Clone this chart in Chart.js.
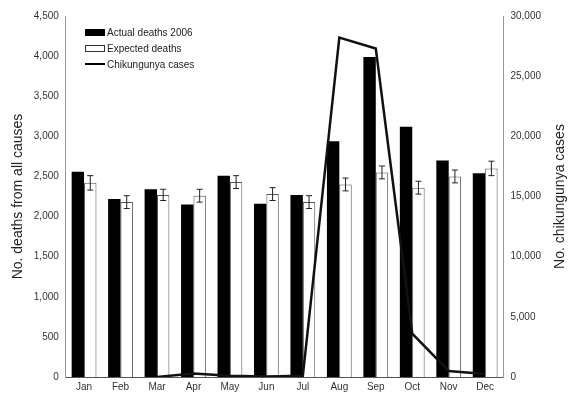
<!DOCTYPE html>
<html>
<head>
<meta charset="utf-8">
<script src="https://cdn.jsdelivr.net/npm/chart.js@4"></script>
<style>
  html, body { margin: 0; padding: 0; background: #fff; }
  #wrap { position: relative; width: 570px; height: 397px; }
  #legend { position: absolute; left: 85px; top: 24px; font: 10px "Liberation Sans", Arial, sans-serif; color: #222; }
  #legend div { display: flex; align-items: center; height: 16px; }
  #legend span.box { display: inline-block; width: 20px; height: 7px; margin-right: 2px; box-sizing: border-box; }
</style>
</head>
<body>
<div id="wrap">
  <canvas id="c" width="570" height="397"></canvas>
  <div id="legend">
    <div><span class="box" style="background:#000"></span>Actual deaths 2006</div>
    <div><span class="box" style="background:#fff;border:1px solid #333"></span>Expected deaths</div>
    <div><span class="box" style="height:2px;background:#000"></span>Chikungunya cases</div>
  </div>
</div>
<script>
// Data
const months = ["Jan", "Feb", "Mar", "Apr", "May", "Jun", "Jul", "Aug", "Sep", "Oct", "Nov", "Dec"];
const actualDeaths = [2560, 2220, 2340, 2150, 2510, 2160, 2270, 2940, 3990, 3120, 2700, 2540];
const expectedDeaths = [2420, 2180, 2270, 2260, 2430, 2280, 2180, 2400, 2550, 2360, 2500, 2600];
const expectedError = [90, 80, 70, 80, 80, 80, 80, 80, 80, 80, 80, 90];
const chikCases = [null, null, 0, 300, 100, 50, 100, 28200, 27300, 3600, 500, 250];

const FONT = "'Liberation Sans', Arial, sans-serif";

// error bars on the expected deaths series
const errorBars = {
  id: "errorBars",
  afterDatasetsDraw(chart) {
    const meta = chart.getDatasetMeta(1);
    const y = chart.scales.y;
    const c = chart.ctx;
    c.save();
    c.strokeStyle = "#222";
    c.lineWidth = 1;
    meta.data.forEach((bar, i) => {
      const v = expectedDeaths[i];
      const e = expectedError[i];
      const top = y.getPixelForValue(v + e);
      const bot = y.getPixelForValue(v - e);
      c.beginPath();
      c.moveTo(bar.x, top);
      c.lineTo(bar.x, bot);
      c.moveTo(bar.x - 3, top);
      c.lineTo(bar.x + 3, top);
      c.moveTo(bar.x - 3, bot);
      c.lineTo(bar.x + 3, bot);
      c.stroke();
    });
    c.restore();
  },
};

// right axis title reads bottom-to-top like the left one
const rightTitle = {
  id: "rightTitle",
  afterDraw(chart) {
    const a = chart.chartArea;
    const c = chart.ctx;
    c.save();
    c.translate(560, (a.top + a.bottom) / 2);
    c.rotate(-Math.PI / 2);
    c.fillStyle = "#222";
    c.font = "14px " + FONT;
    c.textAlign = "center";
    c.textBaseline = "middle";
    c.fillText("No. chikungunya cases", 0, 0);
    c.restore();
  },
};

new Chart(document.getElementById("c"), {
  data: {
    labels: months,
    datasets: [
      {
        type: "bar",
        label: "Actual deaths 2006",
        data: actualDeaths,
        backgroundColor: "#000",
        borderWidth: 0,
        barPercentage: 1,
        categoryPercentage: 0.68,
        yAxisID: "y",
        order: 1,
      },
      {
        type: "bar",
        label: "Expected deaths",
        data: expectedDeaths,
        backgroundColor: "#fff",
        borderColor: "#555",
        borderWidth: 1,
        barPercentage: 1,
        categoryPercentage: 0.68,
        yAxisID: "y",
        order: 1,
      },
      {
        type: "line",
        label: "Chikungunya cases",
        data: chikCases,
        borderColor: "#111",
        borderWidth: 2.5,
        pointRadius: 0,
        tension: 0,
        fill: false,
        yAxisID: "y1",
        order: 0,
      },
    ],
  },
  options: {
    responsive: false,
    animation: false,
    layout: { padding: { top: 16, right: 26, left: 6, bottom: 0 } },
    plugins: { legend: { display: false }, tooltip: { enabled: false } },
    scales: {
      x: {
        grid: { display: false, drawTicks: false },
        border: { color: "#555" },
        ticks: { color: "#333", font: { family: FONT, size: 10 }, padding: 4 },
      },
      y: {
        position: "left",
        min: 0,
        max: 4500,
        grid: { display: false, drawTicks: true, tickLength: 4, color: "#999" },
        border: { color: "#999" },
        ticks: {
          stepSize: 500,
          color: "#333",
          font: { family: FONT, size: 10 },
          callback: (v) => v.toLocaleString("en-US"),
        },
        title: { display: true, text: "No. deaths from all causes", color: "#222", font: { family: FONT, size: 14 } },
      },
      y1: {
        position: "right",
        min: 0,
        max: 30000,
        grid: { display: false, drawOnChartArea: false, tickLength: 4, color: "#999" },
        border: { color: "#999" },
        ticks: {
          stepSize: 5000,
          color: "#333",
          font: { family: FONT, size: 10 },
          callback: (v) => v.toLocaleString("en-US"),
        },
      },
    },
  },
  plugins: [errorBars, rightTitle],
});
</script>
</body>
</html>
